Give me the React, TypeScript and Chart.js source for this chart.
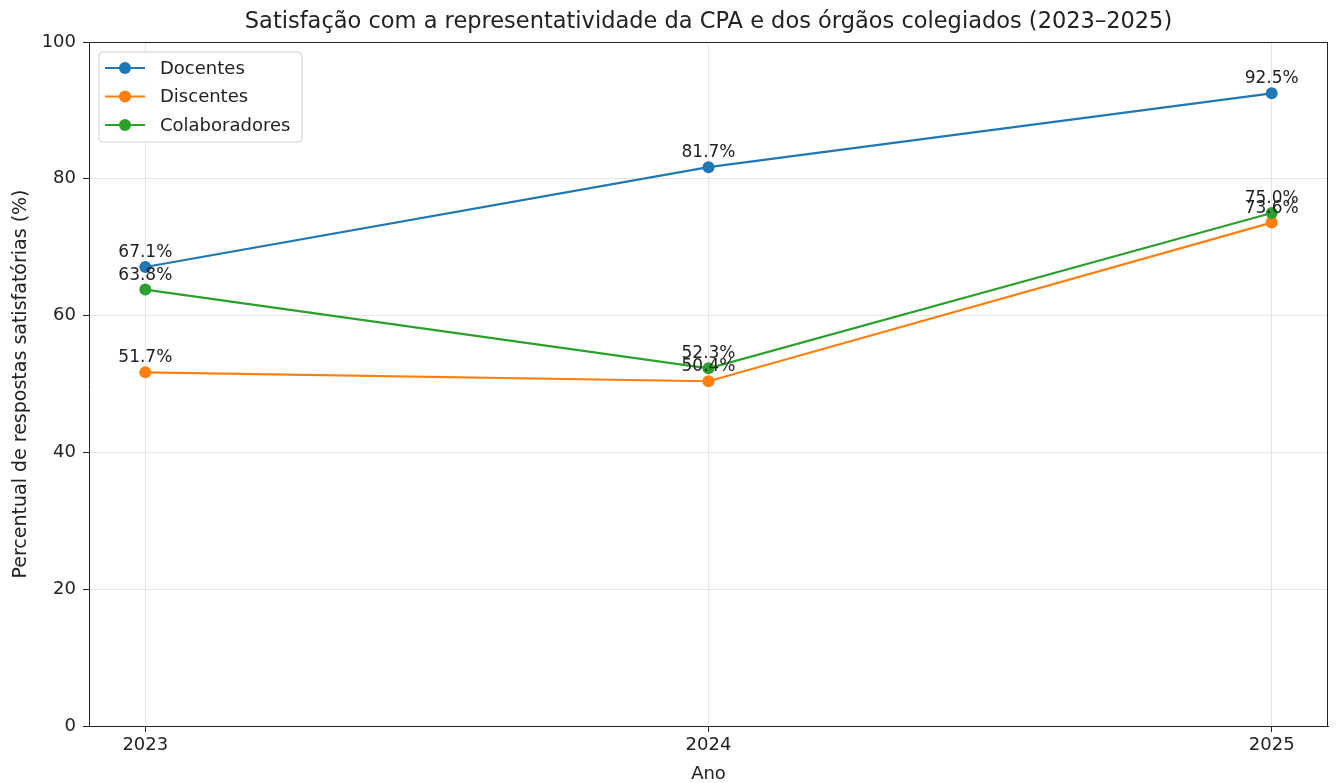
import React, { useEffect, useRef } from "react";
import { Chart, registerables } from "chart.js";

Chart.register(...registerables);

const TITLE = "Satisfação com a representatividade da CPA e dos órgãos colegiados (2023–2025)";
const YEARS = [2023, 2024, 2025];
const DOCENTES = [67.1, 81.7, 92.5];
const DISCENTES = [51.7, 50.4, 73.6];
const COLABORADORES = [63.8, 52.3, 75.0];
const SERIES_NAMES = ["Docentes", "Discentes", "Colaboradores"];
const COLORS = ["#1f77b4", "#ff7f0e", "#2ca02c"];
const Y_TICKS = [0, 20, 40, 60, 80, 100];
const X_LABEL = "Ano";
const Y_LABEL = "Percentual de respostas satisfatórias (%)";

const FONT = "'DejaVu Sans', sans-serif";
const INK = "#222";

const overlayPlugin = {
  id: "overlay",
  afterDraw(chart: any) {
    const ctx = chart.ctx;
    const a = chart.chartArea;
    ctx.save();
    // top and right spines
    ctx.strokeStyle = INK;
    ctx.lineWidth = 1;
    ctx.beginPath();
    ctx.moveTo(a.left, a.top + 0.5);
    ctx.lineTo(a.right, a.top + 0.5);
    ctx.moveTo(a.right - 0.5, a.top);
    ctx.lineTo(a.right - 0.5, a.bottom);
    ctx.stroke();

    // title
    ctx.fillStyle = INK;
    ctx.font = `22.5px ${FONT}`;
    ctx.textAlign = "center";
    ctx.textBaseline = "middle";
    ctx.fillText(TITLE, (a.left + a.right) / 2, 22);

    // data labels
    ctx.font = `17px ${FONT}`;
    ctx.textBaseline = "alphabetic";
    [0, 1, 2].forEach((di) => {
      const meta = chart.getDatasetMeta(di);
      const ds = chart.data.datasets[di];
      meta.data.forEach((pt: any, i: number) => {
        const v = ds.data[i].y;
        ctx.fillStyle = INK;
        ctx.fillText(v.toFixed(1) + "%", pt.x, pt.y - 10);
      });
    });

    // legend
    const bx = 99, by = 52, bw = 203, bh = 90, r = 4;
    ctx.beginPath();
    ctx.moveTo(bx + r, by);
    ctx.lineTo(bx + bw - r, by);
    ctx.quadraticCurveTo(bx + bw, by, bx + bw, by + r);
    ctx.lineTo(bx + bw, by + bh - r);
    ctx.quadraticCurveTo(bx + bw, by + bh, bx + bw - r, by + bh);
    ctx.lineTo(bx + r, by + bh);
    ctx.quadraticCurveTo(bx, by + bh, bx, by + bh - r);
    ctx.lineTo(bx, by + r);
    ctx.quadraticCurveTo(bx, by, bx + r, by);
    ctx.closePath();
    ctx.fillStyle = "rgba(255,255,255,0.85)";
    ctx.fill();
    ctx.strokeStyle = "#d0d0d0";
    ctx.lineWidth = 1;
    ctx.stroke();
    ctx.font = `18px ${FONT}`;
    ctx.textAlign = "left";
    ctx.textBaseline = "middle";
    SERIES_NAMES.forEach((name, i) => {
      const y = 68 + i * 28.5;
      ctx.strokeStyle = COLORS[i];
      ctx.lineWidth = 2.2;
      ctx.beginPath();
      ctx.moveTo(105, y);
      ctx.lineTo(145, y);
      ctx.stroke();
      ctx.fillStyle = COLORS[i];
      ctx.beginPath();
      ctx.arc(125, y, 6, 0, Math.PI * 2);
      ctx.fill();
      ctx.fillStyle = INK;
      ctx.fillText(name, 160, y + 1);
    });
    ctx.restore();
  },
};

export default function App() {
  const ref = useRef<HTMLCanvasElement>(null);
  useEffect(() => {
    document.body.style.margin = "0";
    const seriesVals = [DOCENTES, DISCENTES, COLABORADORES];
    const chart = new Chart(ref.current as HTMLCanvasElement, {
      type: "line",
      data: {
        datasets: SERIES_NAMES.map((name, i) => ({
          label: name,
          data: YEARS.map((x, j) => ({ x, y: seriesVals[i][j] })),
          borderColor: COLORS[i],
          backgroundColor: COLORS[i],
          pointBackgroundColor: COLORS[i],
          pointBorderColor: COLORS[i],
          pointRadius: 6,
          pointBorderWidth: 0,
          borderWidth: 2.2,
          tension: 0,
          order: 2 - i,
        })),
      },
      options: {
        animation: false,
        responsive: false,
        maintainAspectRatio: false,
        layout: { padding: { top: 42, right: 8, left: 0, bottom: 0 } },
        plugins: {
          legend: { display: false },
          tooltip: { enabled: false },
          title: { display: false },
        },
        scales: {
          x: {
            type: "linear",
            min: 2022.9,
            max: 2025.1,
            afterBuildTicks: (s: any) => {
              s.ticks = YEARS.map((v) => ({ value: v }));
            },
            afterFit: (s: any) => {
              s.height = 57;
            },
            ticks: {
              font: { family: FONT, size: 18 },
              color: INK,
              padding: 3,
              callback: (v: any) => String(v),
            },
            grid: {
              color: "rgba(200,200,200,0.45)",
              tickColor: INK,
              tickLength: 6,
              lineWidth: 1,
            },
            border: { display: true, color: INK, width: 1 },
            title: {
              display: true,
              text: X_LABEL,
              font: { family: FONT, size: 18 },
              color: INK,
              padding: { top: 0, bottom: -2 },
            },
          },
          y: {
            type: "linear",
            min: 0,
            max: 100,
            afterBuildTicks: (s: any) => {
              s.ticks = Y_TICKS.map((v) => ({ value: v }));
            },
            afterFit: (s: any) => {
              s.width = 89;
            },
            ticks: {
              font: { family: FONT, size: 18 },
              color: INK,
              padding: 7,
            },
            grid: {
              color: "rgba(200,200,200,0.45)",
              tickColor: INK,
              tickLength: 6,
              lineWidth: 1,
            },
            border: { display: true, color: INK, width: 1 },
            title: {
              display: true,
              text: Y_LABEL,
              font: { family: FONT, size: 19 },
              color: INK,
              padding: { top: 10, bottom: 0 },
            },
          },
        },
      },
      plugins: [overlayPlugin],
    } as any);
    return () => chart.destroy();
  }, []);
  return (
    <div style={{ width: 1336, height: 783 }}>
      <canvas ref={ref} width={1336} height={783} style={{ display: "block" }} />
    </div>
  );
}
